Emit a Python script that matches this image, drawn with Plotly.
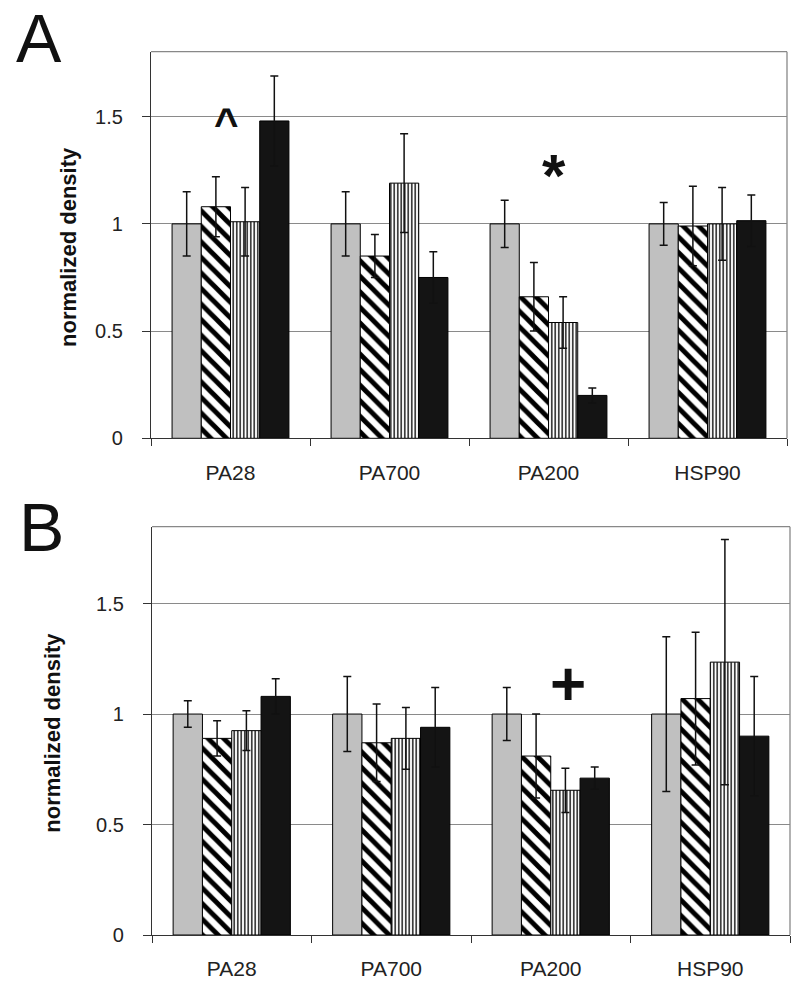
import plotly.graph_objects as go

categories = ["PA28", "PA700", "PA200", "HSP90"]
y_ticks = [0, 0.5, 1, 1.5]
y_tick_text = ["0", "0.5", "1", "1.5"]

# Panel A
a_gray = [1.0, 1.0, 1.0, 1.0]
a_gray_err = [0.15, 0.15, 0.11, 0.10]
a_diag = [1.08, 0.85, 0.66, 0.99]
a_diag_err = [0.14, 0.10, 0.16, 0.185]
a_vert = [1.01, 1.19, 0.54, 1.00]
a_vert_err = [0.16, 0.23, 0.12, 0.17]
a_black = [1.48, 0.75, 0.20, 1.015]
a_black_err = [0.21, 0.12, 0.035, 0.12]

# Panel B
b_gray = [1.0, 1.0, 1.0, 1.0]
b_gray_err = [0.06, 0.17, 0.12, 0.35]
b_diag = [0.89, 0.87, 0.81, 1.07]
b_diag_err = [0.08, 0.175, 0.19, 0.30]
b_vert = [0.925, 0.89, 0.655, 1.235]
b_vert_err = [0.09, 0.14, 0.10, 0.555]
b_black = [1.08, 0.94, 0.71, 0.90]
b_black_err = [0.08, 0.18, 0.05, 0.27]

styles = [
    dict(color="#c0c0c0"),
    dict(color="white", pattern=dict(shape="\\", fgcolor="black", bgcolor="white", size=11,
                                     solidity=0.45, fillmode="replace", fgopacity=1)),
    dict(color="white", pattern=dict(shape="|", fgcolor="black", bgcolor="white", size=3.5,
                                     solidity=0.38, fillmode="replace", fgopacity=1)),
    dict(color="#141414"),
]

fig = go.Figure()

panels = [
    ("x", "y", [(a_gray, a_gray_err), (a_diag, a_diag_err), (a_vert, a_vert_err), (a_black, a_black_err)]),
    ("x2", "y2", [(b_gray, b_gray_err), (b_diag, b_diag_err), (b_vert, b_vert_err), (b_black, b_black_err)]),
]
for xa, ya, series in panels:
    for i, (vals, errs) in enumerate(series):
        m = dict(styles[i])
        m["line"] = dict(color="black", width=1)
        fig.add_trace(go.Bar(
            x=categories, y=vals, xaxis=xa, yaxis=ya, marker=m,
            error_y=dict(type="data", array=errs, visible=True, color="#111", thickness=1.5, width=4),
            showlegend=False, name=f"series {i+1}",
        ))

H = 994.0
W = 800.0

xcommon = dict(type="category", showline=True, linecolor="#333", linewidth=1.3,
               ticks="outside", ticklen=7, tickcolor="#333", tickson="boundaries",
               tickfont=dict(family="Liberation Sans, Arial", size=21, color="#222"),
               showgrid=False, ticklabelstandoff=15, fixedrange=True, automargin=False)
ycommon = dict(showline=True, linecolor="#333", linewidth=1.3, ticks="outside", ticklen=8,
               tickcolor="#333", tickvals=y_ticks, ticktext=y_tick_text,
               tickfont=dict(family="Liberation Sans, Arial", size=20, color="#222"),
               showgrid=True, gridcolor="#8a8a8a", gridwidth=1, zeroline=False,
               ticklabelstandoff=15, fixedrange=True, automargin=False)

fig.update_layout(
    width=800, height=994, autosize=False,
    margin=dict(l=0, r=0, t=0, b=0, autoexpand=False),
    paper_bgcolor="white", plot_bgcolor="white",
    barmode="group", bargap=0.265, bargroupgap=0,
    xaxis=dict(domain=[151/W, 787/W], anchor="y", **xcommon),
    yaxis=dict(domain=[1-438.3/H, 1-51.7/H], anchor="x", range=[0, 1.803], **ycommon),
    xaxis2=dict(domain=[152/W, 790/W], anchor="y2", **xcommon),
    yaxis2=dict(domain=[1-935/H, 1-526.7/H], anchor="x2", range=[0, 1.848], **ycommon),
)

for xr, yr in [("x", "y"), ("x2", "y2")]:
    fig.add_shape(type="line", xref=f"{xr} domain", yref=f"{yr} domain", x0=0, x1=1, y0=1, y1=1,
                  line=dict(color="#888", width=1.3))
    fig.add_shape(type="line", xref=f"{xr} domain", yref=f"{yr} domain", x0=1, x1=1, y0=0, y1=1,
                  line=dict(color="#888", width=1.3))

ann = []
# panel letters
ann.append(dict(text="A", xref="paper", yref="paper", x=14/W, y=1-38/H, xanchor="left", yanchor="middle",
                showarrow=False, font=dict(family="Liberation Sans, Arial", size=68, color="#111")))
ann.append(dict(text="B", xref="paper", yref="paper", x=17/W, y=1-527/H, xanchor="left", yanchor="middle",
                showarrow=False, font=dict(family="Liberation Sans, Arial", size=68, color="#111")))
# y titles
ann.append(dict(text="normalized density", xref="paper", yref="paper", x=68/W, y=1-247/H,
                xanchor="center", yanchor="middle", textangle=-90, showarrow=False,
                font=dict(family="Liberation Sans, Arial", size=22, color="#111", weight="bold")))
ann.append(dict(text="normalized density", xref="paper", yref="paper", x=51.7/W, y=1-733/H,
                xanchor="center", yanchor="middle", textangle=-90, showarrow=False,
                font=dict(family="Liberation Sans, Arial", size=22, color="#111", weight="bold")))
# significance marks
ann.append(dict(text="^", xref="x", yref="y", x="PA28", y=1.466, xshift=-4, yanchor="middle",
                showarrow=False, font=dict(family="Liberation Sans, Arial", size=42, color="#111", weight="bold")))
ann.append(dict(text="*", xref="x", yref="y", x="PA200", y=1.225, xshift=5, yanchor="middle",
                showarrow=False, font=dict(family="Liberation Sans, Arial", size=60, color="#111", weight="bold")))
ann.append(dict(text="+", xref="x2", yref="y2", x="PA200", y=1.137, xshift=17, yanchor="middle",
                showarrow=False, font=dict(family="Liberation Sans, Arial", size=62, color="#111", weight="bold")))
fig.update_layout(annotations=ann)

fig.write_html("out.html", config={"displayModeBar": False},
               post_script="document.body.style.margin='0';document.body.style.padding='0';")
